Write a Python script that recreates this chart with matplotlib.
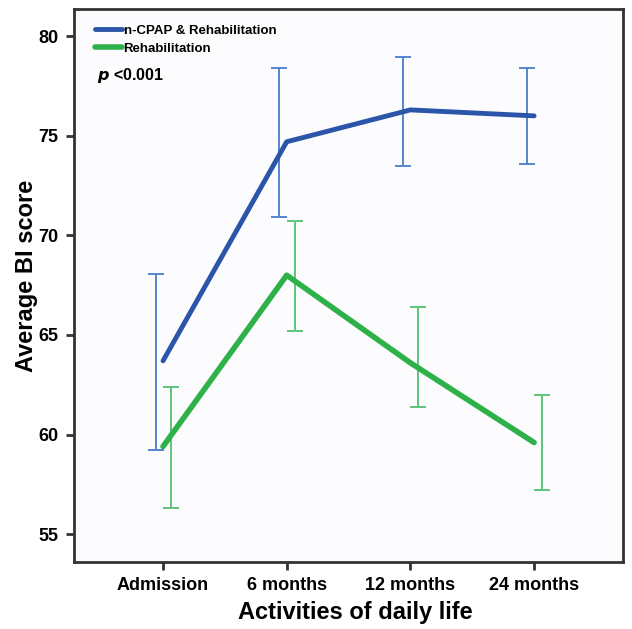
import numpy as np
import matplotlib
matplotlib.use('Agg')
import matplotlib.pyplot as plt

plt.rcParams['font.family'] = ['Liberation Sans', 'DejaVu Sans']
plt.rcParams['font.weight'] = 'bold'

# data
timepoints = ['Admission', '6 months', '12 months', '24 months']
cpap_mean = [63.7, 74.7, 76.3, 76.0]
cpap_low = [59.2, 70.9, 73.5, 73.6]
cpap_high = [68.05, 78.4, 78.95, 78.4]
rehab_mean = [59.4, 68.0, 63.6, 59.6]
rehab_low = [56.3, 65.2, 61.4, 57.2]
rehab_high = [62.4, 70.7, 66.4, 62.0]

x = np.arange(len(timepoints))

fig = plt.figure(figsize=(6.32, 6.29), dpi=100)
ax = fig.add_axes([0.117, 0.1065, 0.869, 0.879])
ax.set_facecolor('#fcfcfe')

blue = '#2a55a8'
green = '#2fb14a'

# error bars, slightly dodged like in SPSS output
ax.errorbar(x - 0.06, cpap_mean,
            yerr=[np.array(cpap_mean) - cpap_low, np.array(cpap_high) - cpap_mean],
            fmt='none', ecolor='#5585d0', elinewidth=1.4, capsize=5.5, capthick=1.4)
ax.errorbar(x + 0.065, rehab_mean,
            yerr=[np.array(rehab_mean) - rehab_low, np.array(rehab_high) - rehab_mean],
            fmt='none', ecolor='#5ec47c', elinewidth=1.4, capsize=5.5, capthick=1.4)

ax.plot(x, cpap_mean, color=blue, lw=3.5, solid_capstyle='round', label='n-CPAP & Rehabilitation')
ax.plot(x, rehab_mean, color=green, lw=4, solid_capstyle='round', label='Rehabilitation')

ax.set_xlim(-0.72, 3.72)
ax.set_ylim(53.6, 81.36)
ax.set_xticks(x)
ax.set_xticklabels(timepoints)
ax.set_yticks([55, 60, 65, 70, 75, 80])

for s in ax.spines.values():
    s.set_linewidth(2)
    s.set_color('#333333')
ax.tick_params(direction='out', length=6, width=2, color='#333333', labelsize=13, pad=5)
for lab in ax.get_xticklabels() + ax.get_yticklabels():
    lab.set_fontweight('bold')

ax.set_xlabel('Activities of daily life', fontsize=17, fontweight='bold')
ax.set_ylabel('Average BI score', fontsize=17, fontweight='bold')
ax.xaxis.set_label_coords(0.512, -0.07)
ax.yaxis.set_label_coords(-0.065, 0.517)

leg = ax.legend(loc='upper left', frameon=False, fontsize=9.5, handlelength=2.05,
                handletextpad=0.1, labelspacing=0.45, borderaxespad=0.0,
                bbox_to_anchor=(0.029, 0.982))
for t in leg.get_texts():
    t.set_fontweight('bold')

ax.text(0.042, 0.88, r'$\bf{\it{p}}$ <0.001', transform=ax.transAxes,
        fontsize=11.5, fontweight='bold', va='center')

fig.savefig('out.png', dpi=100)
